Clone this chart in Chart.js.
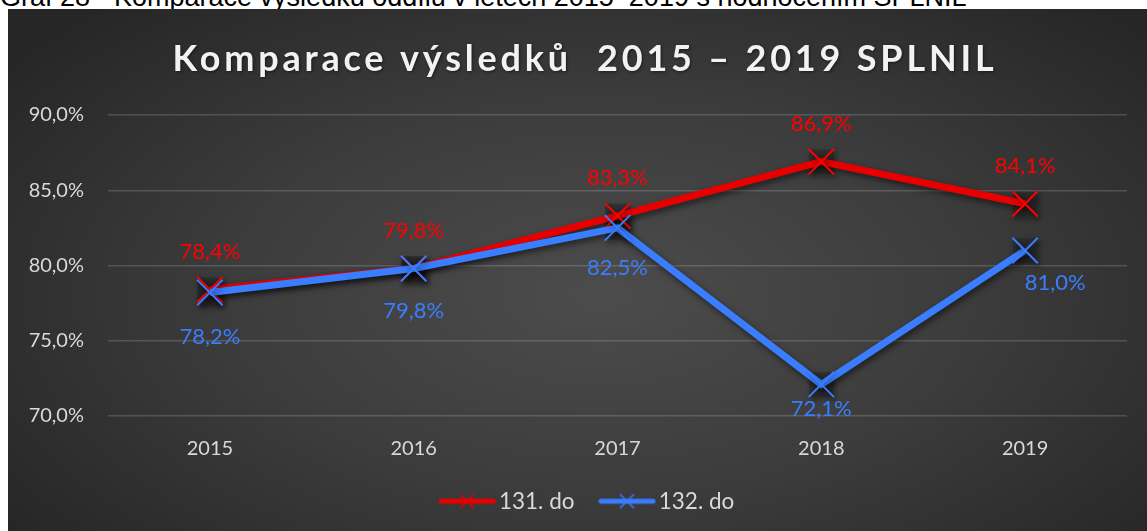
<!DOCTYPE html>
<html><head><meta charset="utf-8">
<script src="https://cdn.jsdelivr.net/npm/chart.js@4"></script>
<style>
html,body{margin:0;padding:0;background:#fff;width:1147px;height:531px;overflow:hidden;position:relative;}
#cap{position:absolute;left:0;top:-18px;font:27px "Liberation Sans",Arial,sans-serif;color:#000;white-space:nowrap;}
#box{position:absolute;left:8px;top:9px;width:1139px;height:522px;background:radial-gradient(ellipse 65% 75% at 52% 55%, #4c4c4c 0%, #3c3c3c 50%, #262626 100%);}
canvas{display:block}
</style></head><body>
<div id="cap">Graf 28 - Komparace výsledků oddílu v letech 2015–2019 s hodnocením SPLNIL</div>
<div id="box"><canvas id="c" width="1139" height="522"></canvas></div>
<script>
const titleText = 'Komparace výsledků  2015 – 2019 SPLNIL';
const categories = ['2015', '2016', '2017', '2018', '2019'];
const seriesNames = ['131. do', '132. do'];
const series131 = [78.4, 79.8, 83.3, 86.9, 84.1];
const series132 = [78.2, 79.8, 82.5, 72.1, 81.0];
const yTickMin = 70, yTickMax = 90, yTickStep = 5;

const RED = '#e80000', RED_LBL = '#ff0000';
const BLUE = '#3a7dff', BLUE_LBL = '#3a7dff';
const FONT = 'Lato, "Open Sans", sans-serif';

function fmt(v){ return v.toFixed(1).replace('.', ',') + '%'; }

function legendIcon(color){
  const c = document.createElement('canvas'); c.width = 80; c.height = 20;
  const g = c.getContext('2d');
  const a = 19;
  g.strokeStyle = color; g.lineWidth = 5; g.lineCap = 'round';
  g.beginPath(); g.moveTo(a + 2.5, 10); g.lineTo(a + 54.5, 10); g.stroke();
  g.lineWidth = 1.5; g.lineCap = 'butt';
  const cx = a + 28.5;
  g.beginPath(); g.moveTo(cx - 7, 3); g.lineTo(cx + 7, 17); g.moveTo(cx + 7, 3); g.lineTo(cx - 7, 17); g.stroke();
  return c;
}
const icons = [legendIcon(RED), legendIcon(BLUE)];

const titlePlugin = {
  id: 'spacedTitle',
  afterDraw(chart, args, opts){
    const ctx = chart.ctx; ctx.save();
    ctx.font = 'bold 36px ' + FONT;
    try { ctx.letterSpacing = '3.8px'; } catch(e){}
    ctx.fillStyle = '#f2f2f2'; ctx.textAlign = 'center'; ctx.textBaseline = 'middle';
    ctx.shadowColor = 'rgba(0,0,0,0.5)'; ctx.shadowBlur = 3; ctx.shadowOffsetX = 1; ctx.shadowOffsetY = 1;
    ctx.fillText(opts.text, opts.x, opts.y);
    ctx.restore();
  }
};

const legendShiftPlugin = {
  id: 'legendShift',
  afterLayout(chart, args, opts){
    if (chart.legend) { chart.legend.left += opts.dx; chart.legend.right += opts.dx; }
  }
};

const markerBoxPlugin = {
  id: 'markerBoxes',
  beforeDatasetsDraw(chart){
    const ctx = chart.ctx;
    chart.data.datasets.forEach((ds, i) => {
      chart.getDatasetMeta(i).data.forEach(pt => {
        ctx.save();
        ctx.shadowColor = 'rgba(0,0,0,0.6)'; ctx.shadowBlur = 6; ctx.shadowOffsetX = 2; ctx.shadowOffsetY = 3;
        ctx.fillStyle = 'rgba(40,40,40,0.55)';
        ctx.fillRect(pt.x - 12, pt.y - 12, 24, 24);
        ctx.restore();
      });
    });
  }
};

const shadowPlugin = {
  id: 'lineShadow',
  beforeDatasetDraw(chart){
    const ctx = chart.ctx; ctx.save();
    ctx.shadowColor = 'rgba(0,0,0,0.55)'; ctx.shadowBlur = 6; ctx.shadowOffsetX = 2; ctx.shadowOffsetY = 3;
  },
  afterDatasetDraw(chart){ chart.ctx.restore(); }
};

const valueLabelPlugin = {
  id: 'valueLabels',
  afterDatasetsDraw(chart, args, opts){
    const ctx = chart.ctx;
    chart.data.datasets.forEach((ds, i) => {
      const meta = chart.getDatasetMeta(i);
      meta.data.forEach((pt, j) => {
        const off = opts.offsets[i][j];
        ctx.save();
        ctx.font = '22px ' + FONT;
        ctx.fillStyle = opts.colors[i];
        ctx.textAlign = 'center'; ctx.textBaseline = 'middle';
        ctx.fillText(fmt(ds.data[j]), pt.x + off[0], pt.y + off[1]);
        ctx.restore();
      });
    });
  }
};

new Chart(document.getElementById('c'), {
  type: 'line',
  data: {
    labels: categories,
    datasets: [
      { label: seriesNames[0], data: series131, borderColor: RED, backgroundColor: RED,
        borderWidth: 7, pointStyle: 'crossRot', pointRadius: 18, pointBorderWidth: 2,
        pointBorderColor: RED_LBL, pointHoverRadius: 18, order: 1, tension: 0 },
      { label: seriesNames[1], data: series132, borderColor: BLUE, backgroundColor: BLUE,
        borderWidth: 7, pointStyle: 'crossRot', pointRadius: 18, pointBorderWidth: 2,
        pointBorderColor: BLUE, pointHoverRadius: 18, order: 0, tension: 0 }
    ]
  },
  options: {
    responsive: false, animation: false,
    layout: { padding: { top: 106, left: 0, right: 19, bottom: 8.5 } },
    scales: {
      x: {
        offset: true,
        grid: { display: false, drawTicks: false, offset: true }, border: { display: false },
        ticks: { color: '#d9d9d9', font: { family: FONT, size: 20 }, padding: 21 },
        afterFit(scale){ scale.height = 57; }
      },
      y: {
        min: yTickMin, max: yTickMax,
        grid: { color: 'rgba(255,255,255,0.16)', lineWidth: 1.5, drawTicks: false }, border: { display: false },
        ticks: { stepSize: yTickStep, color: '#d9d9d9', font: { family: FONT, size: 20 }, padding: 24,
          callback: v => fmt(v) },
        afterFit(scale){ scale.width = 100; }
      }
    },
    plugins: {
      tooltip: { enabled: false },
      legend: {
        position: 'bottom',
        labels: {
          color: '#d9d9d9', font: { family: FONT, size: 22.5 },
          usePointStyle: true, pointStyleWidth: 56, boxHeight: 20, padding: 17,
          sort: (a, b) => a.datasetIndex - b.datasetIndex,
          generateLabels(chart){
            const items = Chart.defaults.plugins.legend.labels.generateLabels(chart);
            items.forEach(it => { it.pointStyle = icons[it.datasetIndex]; it.fontColor = '#d9d9d9'; });
            return items;
          }
        }
      },
      legendShift: { dx: 15 },
      spacedTitle: { text: titleText, x: 577, y: 50 },
      valueLabels: {
        colors: [RED_LBL, BLUE_LBL],
        offsets: [
          [[0,-38],[0,-38],[0,-38],[0,-38],[0,-38]],
          [[0,44],[0,42],[0,40],[0,25],[30,32]]
        ]
      }
    }
  },
  plugins: [titlePlugin, legendShiftPlugin, markerBoxPlugin, shadowPlugin, valueLabelPlugin]
});
</script>
</body></html>
